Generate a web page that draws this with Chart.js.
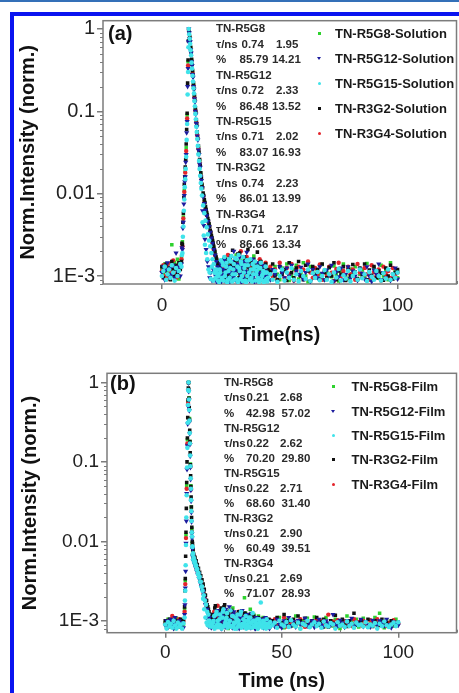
<!DOCTYPE html>
<html>
<head>
<meta charset="utf-8">
<script src="https://cdn.jsdelivr.net/npm/chart.js@4.4.1/dist/chart.umd.min.js"></script>
<style>
html,body{margin:0;padding:0;background:#fff;width:459px;height:693px;overflow:hidden;font-family:"Liberation Sans",Arial,sans-serif;}
#topline{position:absolute;left:0;top:0;width:459px;height:2px;background:#3470b8;}
#frameTop{position:absolute;left:10px;top:12px;width:449px;height:4px;background:#0a14f0;}
#frameLeft{position:absolute;left:10px;top:12px;width:4px;height:681px;background:#0a14f0;}
canvas{position:absolute;left:15px;}
#ca{top:16px;}
#cb{top:340px;}
.t{position:absolute;font-weight:bold;white-space:pre;line-height:1;}
.mk{position:absolute;}
</style>
</head>
<body>
<div id="topline"></div>
<div id="frameTop"></div>
<div id="frameLeft"></div>
<canvas id="ca" width="444" height="331"></canvas>
<canvas id="cb" width="444" height="353"></canvas>
<script>
// ---------------- data ----------------
const X_TICKS = [0, 50, 100];
const Y_TICKS = [0.001, 0.01, 0.1, 1];
const Y_LABELS = ['1E-3', '0.01', '0.1', '1'];

const namesA = ['TN-R5G8-Solution','TN-R5G12-Solution','TN-R5G15-Solution','TN-R3G2-Solution','TN-R3G4-Solution'];
const namesB = ['TN-R5G8-Film','TN-R5G12-Film','TN-R5G15-Film','TN-R3G2-Film','TN-R3G4-Film'];
const samples = ['TN-R5G8','TN-R5G12','TN-R5G15','TN-R3G2','TN-R3G4'];
const tauA = [['0.74','1.95'],['0.72','2.33'],['0.71','2.02'],['0.74','2.23'],['0.71','2.17']];
const pctA = [['85.79','14.21'],['86.48','13.52'],['83.07','16.93'],['86.01','13.99'],['86.66','13.34']];
const tauB = [['0.21','2.68'],['0.22','2.62'],['0.22','2.71'],['0.21','2.90'],['0.21','2.69']];
const pctB = [['42.98','57.02'],['70.20','29.80'],['68.60','31.40'],['60.49','39.51'],['71.07','28.93']];

// time (ns), panel (a)
const tA = [0,0.6,1.2,1.8,2.4,3,3.6,4.2,4.8,5.4,6,6.6,7.2,7.8,
 8.3,8.7,9.1,9.5,9.9,10.3,10.7,11.1,11.4,
 11.8,12.2,12.6,13,13.4,13.8,14.2,14.6,15,15.5,16,16.5,17,17.5,18,18.5,19,19.5,20,20.5,21,21.5,22,22.5,23,23.5,24,
 24.5,25,25.5,26,26.5,27,27.5,28,28.5,29,29.5,30,30.5,31,31.5,32,32.5,33,33.5,34,34.5,35,35.5,36,36.5,37,37.5,38,38.5,39,39.5,40,40.5,41,41.5,42,42.5,43,43.5,44,44.5,45,
 46,47,48,49,50,51,52,53,54,55,56,57,58,59,60,61,62,63,64,65,66,67,68,69,70,71,72,73,74,75,76,77,78,79,80,81,82,83,84,85,86,87,88,89,90,91,92,93,94,95,96,97,98,99,100];
// extra channels, panel (a)
const tA2 = [8.5,8.9,9.3,9.7,10.1,10.5,10.9,11.25,
 11.6,12,12.4,12.8,13.2,13.6,14,14.4,14.8,15.25,15.75,16.25,16.75,17.25,17.75,18.25,18.75,19.25,19.75,20.25,20.75,21.25,21.75,22.25,22.75,23.25,23.75,
 24.25,24.75,25.25,25.75,26.25,26.75,27.25,27.75,28.25,28.75,29.25,29.75,30.25,30.75,31.25,31.75,32.25,32.75,33.25,33.75,34.25,34.75,35.25,35.75,36.25,36.75,37.25,37.75,38.25,38.75,39.25,39.75,40.25,40.75,41.25,41.75,42.25,42.75,43.25,43.75,44.25,44.75];

const aR5G8 = [1.25e-3,1.05e-3,1.4e-3,0.95e-3,1.15e-3,1.3e-3,1.1e-3,2.4e-3,1.0e-3,1.45e-3,1.2e-3,1.6e-3,0.92e-3,1.3e-3,
 1.7e-3,2.6e-3,5.2e-3,0.011,0.019,0.036,0.09,0.4,0.97,
 0.79,0.59,0.42,0.3,0.21,0.15,0.104,0.075,0.053,0.036,0.025,0.0172,0.0125,0.0096,0.0081,0.0066,0.0057,0.0047,0.0042,0.0035,0.003,0.0026,0.0022,0.0019,0.0016,0.0014,0.0013,
 1.3e-3,1.05e-3,1.5e-3,0.95e-3,1.2e-3,1.7e-3,1.1e-3,0.9e-3,1.35e-3,1.6e-3,
 1.0e-3,1.25e-3,1.45e-3,0.92e-3,1.8e-3,1.15e-3,1.3e-3,1.05e-3,1.55e-3,0.88e-3,
 1.4e-3,1.2e-3,1.65e-3,1.0e-3,1.3e-3,0.95e-3,1.5e-3,1.1e-3,1.25e-3,1.75e-3,
 0.9e-3,1.35e-3,1.05e-3,1.45e-3,1.2e-3,0.98e-3,1.3e-3,1.1e-3,0.9e-3,1.4e-3,
 1.0e-3,1.2e-3,
 1.1e-3,0.95e-3,1.3e-3,1.05e-3,0.9e-3,1.25e-3,1.15e-3,1.4e-3,0.88e-3,1.0e-3,
 1.2e-3,1.35e-3,0.92e-3,1.1e-3,1.45e-3,1.0e-3,0.85e-3,1.3e-3,1.15e-3,0.95e-3,
 1.2e-3,1.05e-3,1.38e-3,0.9e-3,1.1e-3,1.25e-3,0.98e-3,1.32e-3,1.05e-3,0.87e-3,
 1.15e-3,1.4e-3,1.0e-3,0.93e-3,1.22e-3,1.1e-3,1.3e-3,0.9e-3,1.05e-3,1.18e-3,
 0.96e-3,1.42e-3,1.08e-3,0.89e-3,1.25e-3,1.12e-3,0.94e-3,1.35e-3,1.0e-3,1.2e-3,
 0.9e-3,1.45e-3,1.05e-3,1.15e-3,0.95e-3];

const aR5G12 = [1.1e-3,1.3e-3,0.9e-3,1.2e-3,1.45e-3,1.0e-3,1.25e-3,1.05e-3,1.35e-3,0.95e-3,1.9e-3,1.15e-3,1.3e-3,1.0e-3,
 1.4e-3,2.1e-3,4.5e-3,0.0095,0.016,0.03,0.075,0.33,1.0,
 0.76,0.56,0.4,0.28,0.2,0.142,0.1,0.071,0.05,0.034,0.023,0.0162,0.0118,0.0092,0.0076,0.0063,0.0054,0.0046,0.004,0.0034,0.0029,0.0025,0.0021,0.0018,0.0015,0.0013,0.0012,
 1.0e-3,1.4e-3,0.9e-3,1.2e-3,1.55e-3,1.05e-3,0.85e-3,1.3e-3,1.1e-3,1.65e-3,
 0.95e-3,1.25e-3,2.0e-3,1.1e-3,0.9e-3,1.4e-3,1.2e-3,1.7e-3,1.0e-3,1.3e-3,
 0.88e-3,1.5e-3,1.15e-3,1.95e-3,1.05e-3,1.35e-3,0.92e-3,1.2e-3,1.6e-3,1.0e-3,
 1.3e-3,0.87e-3,1.45e-3,1.1e-3,0.95e-3,1.25e-3,1.05e-3,1.35e-3,0.9e-3,1.15e-3,
 1.0e-3,0.88e-3,
 0.9e-3,1.2e-3,1.05e-3,0.85e-3,1.3e-3,1.1e-3,0.95e-3,1.25e-3,1.0e-3,1.35e-3,
 0.88e-3,1.15e-3,1.05e-3,1.28e-3,0.92e-3,1.1e-3,1.4e-3,0.86e-3,1.2e-3,1.0e-3,
 0.95e-3,1.3e-3,1.08e-3,0.9e-3,1.18e-3,1.02e-3,1.35e-3,0.87e-3,1.12e-3,0.98e-3,
 1.25e-3,0.9e-3,1.05e-3,1.3e-3,0.94e-3,1.15e-3,1.0e-3,0.88e-3,1.22e-3,1.08e-3,
 0.92e-3,1.3e-3,1.0e-3,0.86e-3,1.18e-3,1.05e-3,1.4e-3,0.9e-3,1.1e-3,0.95e-3,
 1.2e-3,0.88e-3,1.05e-3,1.25e-3,0.92e-3];
const aR5G12x = [2.2e-3,3.8e-3,7.5e-3,0.014,0.024,0.055,0.2,0.7,
 0.9,0.7,0.51,0.36,0.26,0.185,0.13,0.092,0.065,0.045,0.03,0.021,0.0145,
 0.0062,0.0041,0.0028,0.0021,0.0015,0.0013,0.00095,0.0011,0.00088,0.0012,0.0009,0.001,0.00085,0.0011,
 0.9e-3,1.25e-3,0.86e-3,1.05e-3,1.4e-3,0.88e-3,1.15e-3,0.95e-3,1.3e-3,0.85e-3,
 1.1e-3,1.5e-3,0.9e-3,1.0e-3,1.2e-3,0.87e-3,1.35e-3,0.92e-3,1.05e-3,0.84e-3,
 1.25e-3,0.95e-3,1.1e-3,0.86e-3,1.45e-3,1.0e-3,0.88e-3,1.2e-3,0.92e-3,1.05e-3,
 0.85e-3,1.15e-3,0.9e-3,1.3e-3,0.87e-3,1.0e-3,0.94e-3,1.1e-3,0.85e-3,0.96e-3,
 1.05e-3,0.9e-3];

const aR5G15 = [1.0e-3,1.15e-3,1.3e-3,0.9e-3,1.05e-3,1.2e-3,0.95e-3,1.35e-3,1.1e-3,0.88e-3,1.25e-3,1.0e-3,1.15e-3,1.4e-3,
 1.3e-3,1.9e-3,4.0e-3,0.0085,0.015,0.028,0.07,0.3,1.0,
 0.76,0.55,0.39,0.27,0.19,0.133,0.093,0.065,0.046,0.03,0.02,0.0135,0.0095,0.0072,0.0058,0.0047,0.0039,0.0032,0.0027,0.0023,0.0019,0.0016,0.0014,0.0012,0.0011,0.00105,0.001,
 1.2e-3,1.55e-3,0.95e-3,1.35e-3,1.7e-3,1.1e-3,1.45e-3,0.9e-3,1.6e-3,1.25e-3,
 1.75e-3,1.05e-3,1.4e-3,1.65e-3,0.92e-3,1.3e-3,1.8e-3,1.15e-3,1.5e-3,1.0e-3,
 1.7e-3,1.25e-3,0.88e-3,1.55e-3,1.35e-3,1.1e-3,1.6e-3,0.95e-3,1.4e-3,1.2e-3,
 1.5e-3,1.05e-3,1.3e-3,0.9e-3,1.25e-3,1.45e-3,1.0e-3,1.15e-3,0.87e-3,1.3e-3,
 1.1e-3,0.95e-3,
 1.05e-3,0.9e-3,1.15e-3,0.85e-3,1.0e-3,1.2e-3,0.88e-3,1.1e-3,0.95e-3,1.25e-3,
 0.9e-3,1.05e-3,0.86e-3,1.15e-3,1.0e-3,0.92e-3,1.2e-3,0.87e-3,1.08e-3,0.95e-3,
 1.12e-3,0.89e-3,1.0e-3,1.18e-3,0.9e-3,1.05e-3,0.85e-3,1.1e-3,0.96e-3,1.22e-3,
 0.88e-3,1.02e-3,0.93e-3,1.15e-3,0.86e-3,1.0e-3,1.1e-3,0.9e-3,1.2e-3,0.94e-3,
 1.05e-3,0.87e-3,1.12e-3,0.98e-3,0.9e-3,1.15e-3,1.0e-3,0.88e-3,1.08e-3,0.93e-3,
 1.2e-3,0.9e-3,1.05e-3,0.95e-3,1.1e-3];
const aR5G15x = [1.8e-3,3.0e-3,6.2e-3,0.012,0.02,0.045,0.16,0.6,
 0.86,0.66,0.48,0.33,0.23,0.165,0.115,0.08,0.056,0.038,0.025,0.0165,0.0115,
 0.0045,0.0031,0.0024,0.0019,0.0016,0.0012,0.0011,0.00092,0.0013,0.00088,0.0011,0.00095,0.0012,0.00088,
 0.85e-3,1.1e-3,0.9e-3,1.45e-3,0.88e-3,1.0e-3,1.3e-3,0.84e-3,1.15e-3,0.95e-3,
 1.5e-3,0.86e-3,1.2e-3,0.9e-3,1.05e-3,1.6e-3,0.85e-3,1.25e-3,0.92e-3,1.4e-3,
 0.87e-3,1.1e-3,1.35e-3,0.84e-3,1.0e-3,1.55e-3,0.9e-3,1.2e-3,0.86e-3,1.05e-3,
 1.3e-3,0.88e-3,1.15e-3,0.95e-3,0.85e-3,1.25e-3,0.9e-3,1.05e-3,0.84e-3,1.1e-3,
 0.92e-3,0.86e-3];

const aR3G2 = [1.3e-3,0.95e-3,1.15e-3,1.4e-3,1.05e-3,1.25e-3,0.9e-3,1.5e-3,1.2e-3,1.0e-3,1.35e-3,1.1e-3,1.45e-3,1.2e-3,
 1.5e-3,2.4e-3,5.8e-3,0.013,0.021,0.04,0.095,0.42,0.99,
 0.8,0.6,0.43,0.31,0.22,0.158,0.11,0.079,0.056,0.038,0.026,0.018,0.013,0.0102,0.0085,0.007,0.0059,0.005,0.0043,0.0036,0.0031,0.0027,0.0023,0.002,0.0017,0.0015,0.0013,
 1.25e-3,1.0e-3,1.45e-3,1.15e-3,0.9e-3,1.6e-3,1.3e-3,1.05e-3,1.5e-3,0.95e-3,
 1.35e-3,2.05e-3,1.1e-3,1.25e-3,0.88e-3,1.55e-3,1.2e-3,1.9e-3,1.0e-3,1.4e-3,
 1.15e-3,1.7e-3,0.92e-3,1.3e-3,2.1e-3,1.05e-3,1.45e-3,1.2e-3,0.9e-3,1.6e-3,
 1.35e-3,1.1e-3,1.95e-3,1.0e-3,1.25e-3,1.5e-3,0.95e-3,1.3e-3,1.15e-3,1.4e-3,
 1.05e-3,1.2e-3,
 1.15e-3,1.4e-3,1.0e-3,0.9e-3,1.3e-3,1.05e-3,1.2e-3,0.88e-3,1.45e-3,1.1e-3,
 0.95e-3,1.25e-3,1.5e-3,1.0e-3,0.9e-3,1.35e-3,1.15e-3,0.87e-3,1.3e-3,1.05e-3,
 1.2e-3,0.92e-3,1.4e-3,1.1e-3,0.95e-3,1.28e-3,1.0e-3,1.45e-3,0.9e-3,1.15e-3,
 1.05e-3,1.3e-3,0.88e-3,1.2e-3,1.0e-3,1.38e-3,1.12e-3,0.93e-3,1.25e-3,1.05e-3,
 1.4e-3,0.9e-3,1.18e-3,1.02e-3,1.3e-3,0.95e-3,1.15e-3,1.08e-3,0.89e-3,1.25e-3,
 1.0e-3,1.35e-3,0.92e-3,1.1e-3,1.2e-3];
const aR3G2x = [2.5e-3,4.5e-3,9e-3,0.016,0.026,0.06,0.22,0.72,
 0.9,0.71,0.52,0.37,0.27,0.19,0.135,0.096,0.068,0.047,0.032,0.022,0.0155,
 0.0118,0.0095,0.0078,0.0064,0.0055,0.0047,0.004,0.0034,0.0029,0.0025,0.0021,0.0018,0.0016,0.0014,
 1.15e-3,0.9e-3,1.35e-3,1.0e-3,1.6e-3,0.88e-3,1.2e-3,1.45e-3,0.95e-3,1.1e-3,
 1.75e-3,1.0e-3,1.3e-3,0.9e-3,1.5e-3,1.15e-3,1.85e-3,0.95e-3,1.25e-3,1.05e-3,
 1.4e-3,0.88e-3,1.6e-3,1.1e-3,1.3e-3,0.92e-3,1.2e-3,1.5e-3,1.0e-3,1.35e-3,
 0.9e-3,1.15e-3,1.25e-3,0.95e-3,1.4e-3,1.05e-3,0.88e-3,1.2e-3,1.0e-3,1.3e-3,
 0.92e-3,1.1e-3];

const aR3G4 = [1.15e-3,1.35e-3,1.0e-3,1.25e-3,0.92e-3,1.4e-3,1.1e-3,1.2e-3,1.55e-3,1.05e-3,0.95e-3,1.3e-3,1.0e-3,1.25e-3,
 1.6e-3,2.3e-3,5.0e-3,0.0105,0.018,0.033,0.082,0.36,0.98,
 0.78,0.57,0.41,0.29,0.205,0.146,0.102,0.073,0.051,0.035,0.0235,0.0165,0.012,0.0094,0.0078,0.0064,0.0055,0.0046,0.004,0.0034,0.0029,0.0025,0.0021,0.0018,0.0016,0.0014,0.0012,
 1.1e-3,1.4e-3,0.95e-3,1.25e-3,1.55e-3,1.0e-3,1.35e-3,1.8e-3,1.15e-3,0.9e-3,
 1.45e-3,1.2e-3,1.05e-3,1.6e-3,1.3e-3,0.92e-3,1.5e-3,1.1e-3,2.0e-3,1.25e-3,
 1.0e-3,1.4e-3,1.15e-3,1.7e-3,0.95e-3,1.3e-3,1.55e-3,1.05e-3,1.2e-3,1.45e-3,
 0.9e-3,1.35e-3,1.1e-3,1.25e-3,1.6e-3,1.0e-3,1.3e-3,0.95e-3,1.2e-3,1.45e-3,
 1.05e-3,1.15e-3,
 1.3e-3,1.0e-3,1.2e-3,0.9e-3,1.45e-3,1.1e-3,0.95e-3,1.25e-3,1.05e-3,1.4e-3,
 0.88e-3,1.15e-3,1.3e-3,1.0e-3,1.2e-3,0.92e-3,1.5e-3,1.1e-3,0.95e-3,1.25e-3,
 1.05e-3,1.38e-3,0.9e-3,1.15e-3,1.0e-3,1.3e-3,1.1e-3,0.87e-3,1.22e-3,1.45e-3,
 1.0e-3,1.15e-3,0.93e-3,1.3e-3,1.05e-3,1.2e-3,0.9e-3,1.4e-3,1.1e-3,0.96e-3,
 1.25e-3,1.05e-3,0.9e-3,1.35e-3,1.12e-3,1.0e-3,1.2e-3,0.88e-3,1.3e-3,1.05e-3,
 1.15e-3,0.95e-3,1.25e-3,1.0e-3,1.1e-3];

// time (ns), panel (b)
const tB = [0,0.6,1.2,1.8,2.4,3,3.6,4.2,4.8,5.4,6,6.6,7.2,7.8,
 8.3,8.6,8.9,9.2,9.5,9.8,10,
 10.2,10.4,10.6,10.8,11,11.2,11.4,11.6,11.8,
 12,12.5,13,13.5,14,14.5,15,15.5,16,16.5,17,17.5,18,18.5,19,19.5,20,
 20.5,21,21.5,22,22.5,23,23.5,24,24.5,25,25.5,26,26.5,27,27.5,28,28.5,29,29.5,30,30.5,31,31.5,32,32.5,33,33.5,34,34.5,35,35.5,36,36.5,37,37.5,38,38.5,39,39.5,40,40.5,41,41.5,42,42.5,43,43.5,44,44.5,45,
 46,47,48,49,50,51,52,53,54,55,56,57,58,59,60,61,62,63,64,65,66,67,68,69,70,71,72,73,74,75,76,77,78,79,80,81,82,83,84,85,86,87,88,89,90,91,92,93,94,95,96,97,98,99,100];
// extra channels, panel (b)
const tB2 = [8.45,8.75,9.05,9.35,9.65,9.9,
 10.1,10.3,10.5,10.7,10.9,11.1,11.3,11.5,11.7,11.9,
 12.25,12.75,13.25,13.75,14.25,14.75,15.25,15.75,16.25,16.75,17.25,17.75,18.25,18.75,19.25,19.75,
 20.25,20.75,21.25,21.75,22.25,22.75,23.25,23.75,24.25,24.75,25.25,25.75,26.25,26.75,27.25,27.75,28.25,28.75,29.25,29.75,30.25,30.75,31.25,31.75,32.25,32.75,33.25,33.75,34.25,34.75,35.25,35.75,36.25,36.75,37.25,37.75,38.25,38.75,39.25,39.75,40.25,40.75,41.25,41.75,42.25,42.75,43.25,43.75,44.25,44.75];

const bR5G8 = [0.95e-3,0.82e-3,1.05e-3,0.9e-3,0.85e-3,1.0e-3,0.92e-3,0.8e-3,1.08e-3,0.88e-3,0.97e-3,0.83e-3,1.02e-3,0.9e-3,
 1.4e-3,3.2e-3,0.012,0.05,0.19,0.58,1.0,
 0.64,0.35,0.18,0.094,0.05,0.027,0.0145,0.0095,0.0075,
 0.0066,0.006,0.0054,0.0049,0.0044,0.004,0.0036,0.0032,0.0028,0.0024,0.0021,0.0018,0.0016,0.0014,0.0012,0.0011,0.00098,
 1.1e-3,0.9e-3,1.3e-3,0.85e-3,1.0e-3,1.2e-3,0.95e-3,1.4e-3,0.88e-3,1.05e-3,
 1.25e-3,0.92e-3,1.15e-3,0.8e-3,1.35e-3,1.0e-3,0.9e-3,1.45e-3,1.1e-3,0.85e-3,
 1.2e-3,0.95e-3,1.05e-3,1.3e-3,0.88e-3,1.0e-3,1.15e-3,1.95e-3,1.25e-3,0.95e-3,
 1.1e-3,0.9e-3,1.4e-3,1.0e-3,0.86e-3,1.2e-3,0.93e-3,1.05e-3,0.8e-3,1.15e-3,
 0.95e-3,1.0e-3,0.87e-3,1.1e-3,0.92e-3,0.83e-3,1.05e-3,0.9e-3,0.98e-3,0.85e-3,
 0.9e-3,1.0e-3,0.85e-3,1.1e-3,0.95e-3,0.82e-3,1.05e-3,0.9e-3,1.0e-3,0.87e-3,
 1.15e-3,0.93e-3,0.8e-3,1.0e-3,0.9e-3,1.08e-3,0.85e-3,0.97e-3,1.12e-3,0.88e-3,
 0.95e-3,1.02e-3,0.83e-3,1.1e-3,0.9e-3,0.98e-3,0.86e-3,1.05e-3,0.92e-3,0.8e-3,
 1.0e-3,0.94e-3,1.15e-3,0.87e-3,0.99e-3,0.9e-3,1.05e-3,0.84e-3,0.96e-3,1.08e-3,
 0.9e-3,0.85e-3,1.0e-3,0.93e-3,1.1e-3,0.88e-3,1.25e-3,0.95e-3,0.82e-3,1.02e-3,
 0.9e-3,0.97e-3,0.86e-3,1.05e-3,0.92e-3];

const bR5G12 = [0.88e-3,1.0e-3,0.83e-3,0.95e-3,1.05e-3,0.9e-3,0.8e-3,1.1e-3,0.92e-3,0.85e-3,1.0e-3,0.88e-3,0.95e-3,0.82e-3,
 1.2e-3,2.6e-3,0.0095,0.04,0.16,0.5,0.98,
 0.6,0.32,0.165,0.085,0.044,0.023,0.0125,0.0082,0.0064,
 0.0057,0.0052,0.0047,0.0042,0.0038,0.0034,0.003,0.0027,0.0024,0.0021,0.0018,0.0016,0.0014,0.0012,0.0011,0.00095,0.00088,
 1.0e-3,0.85e-3,1.2e-3,0.9e-3,1.35e-3,0.95e-3,1.1e-3,0.8e-3,1.25e-3,1.0e-3,
 0.88e-3,1.4e-3,0.92e-3,1.05e-3,1.5e-3,0.86e-3,1.15e-3,0.95e-3,1.3e-3,0.9e-3,
 1.05e-3,0.82e-3,1.2e-3,1.0e-3,0.9e-3,1.35e-3,0.87e-3,1.1e-3,0.95e-3,1.2e-3,
 0.85e-3,1.05e-3,0.93e-3,1.25e-3,0.88e-3,1.0e-3,0.8e-3,1.1e-3,0.95e-3,0.87e-3,
 1.0e-3,0.9e-3,1.05e-3,0.84e-3,0.96e-3,1.1e-3,0.88e-3,0.92e-3,1.0e-3,0.85e-3,
 0.95e-3,0.85e-3,1.05e-3,0.9e-3,0.82e-3,1.0e-3,0.93e-3,1.1e-3,0.87e-3,0.98e-3,
 0.84e-3,1.02e-3,0.9e-3,0.95e-3,1.08e-3,0.86e-3,0.92e-3,1.0e-3,0.83e-3,0.97e-3,
 1.05e-3,0.9e-3,0.85e-3,1.0e-3,0.94e-3,0.88e-3,1.2e-3,0.92e-3,0.86e-3,1.02e-3,
 0.95e-3,0.83e-3,1.0e-3,0.9e-3,1.08e-3,0.87e-3,0.96e-3,0.92e-3,1.05e-3,0.85e-3,
 0.98e-3,0.9e-3,0.84e-3,1.02e-3,0.93e-3,0.88e-3,1.0e-3,0.95e-3,0.86e-3,1.05e-3,
 0.9e-3,0.82e-3,0.97e-3,0.92e-3,0.88e-3];
const bR5G12x = [1.6e-3,4.2e-3,0.018,0.08,0.3,0.78,
 0.77,0.44,0.225,0.118,0.06,0.032,0.0175,0.011,0.0081,0.0066,
 0.0059,0.0053,0.0048,0.0043,0.0039,0.0034,0.003,0.0026,0.0023,0.0019,0.0016,0.0011,0.0009,0.00085,0.001,0.00082,
 0.9e-3,0.82e-3,1.1e-3,0.95e-3,0.85e-3,1.25e-3,0.88e-3,1.0e-3,0.8e-3,1.15e-3,
 0.92e-3,0.84e-3,1.05e-3,1.3e-3,0.86e-3,0.95e-3,1.0e-3,0.82e-3,1.2e-3,0.9e-3,
 0.85e-3,1.05e-3,0.95e-3,0.8e-3,1.1e-3,0.88e-3,1.0e-3,0.84e-3,0.93e-3,1.15e-3,
 0.86e-3,0.9e-3,1.0e-3,0.82e-3,0.95e-3,1.05e-3,0.87e-3,0.8e-3,0.98e-3,0.9e-3,
 0.84e-3,1.0e-3,0.88e-3,0.93e-3,0.82e-3,1.05e-3,0.9e-3,0.85e-3,0.96e-3,0.8e-3];

const bR5G15 = [0.9e-3,0.8e-3,0.97e-3,0.86e-3,0.92e-3,0.82e-3,1.0e-3,0.88e-3,0.8e-3,0.95e-3,0.85e-3,0.9e-3,0.8e-3,0.93e-3,
 1.1e-3,2.4e-3,0.009,0.038,0.15,0.52,1.0,
 0.61,0.33,0.17,0.088,0.046,0.024,0.013,0.0087,0.0068,
 0.0059,0.0054,0.0049,0.0044,0.0039,0.0035,0.0031,0.0027,0.0024,0.0021,0.0018,0.0016,0.0013,0.0012,0.001,0.00092,0.00085,
 0.95e-3,1.15e-3,0.85e-3,1.3e-3,1.0e-3,0.9e-3,1.2e-3,0.82e-3,1.1e-3,1.4e-3,
 0.88e-3,1.05e-3,1.25e-3,0.92e-3,1.0e-3,1.35e-3,0.86e-3,1.15e-3,0.95e-3,1.1e-3,
 0.8e-3,1.2e-3,1.0e-3,0.9e-3,1.3e-3,0.85e-3,1.05e-3,0.93e-3,1.15e-3,0.88e-3,
 1.0e-3,0.82e-3,1.1e-3,0.95e-3,1.25e-3,0.87e-3,1.0e-3,0.9e-3,1.05e-3,0.85e-3,
 0.95e-3,1.7e-3,0.88e-3,1.0e-3,0.92e-3,0.84e-3,1.05e-3,0.9e-3,0.86e-3,0.97e-3,
 0.88e-3,0.95e-3,0.82e-3,1.0e-3,0.9e-3,0.86e-3,0.97e-3,0.84e-3,1.02e-3,0.9e-3,
 0.85e-3,0.95e-3,0.8e-3,0.92e-3,0.88e-3,1.0e-3,0.83e-3,0.9e-3,0.96e-3,0.86e-3,
 0.92e-3,0.82e-3,0.98e-3,0.88e-3,0.85e-3,0.94e-3,0.9e-3,0.8e-3,0.96e-3,0.87e-3,
 0.9e-3,0.84e-3,0.98e-3,0.86e-3,0.92e-3,0.82e-3,0.95e-3,0.88e-3,0.9e-3,0.85e-3,
 0.96e-3,0.83e-3,0.9e-3,0.87e-3,0.94e-3,0.8e-3,0.92e-3,0.86e-3,0.98e-3,0.88e-3,
 0.84e-3,0.9e-3,0.95e-3,0.86e-3,0.96e-3];
const bR5G15x = [1.8e-3,5e-3,0.02,0.085,0.31,0.8,
 0.78,0.45,0.23,0.12,0.062,0.033,0.018,0.0115,0.0085,0.0071,
 0.0062,0.0056,0.005,0.0045,0.004,0.0036,0.0031,0.0027,0.0019,0.0014,0.0011,0.00095,0.00088,0.001,0.00085,0.0009,
 0.85e-3,1.0e-3,0.8e-3,1.2e-3,0.9e-3,0.83e-3,1.05e-3,0.88e-3,0.8e-3,1.3e-3,
 0.86e-3,0.95e-3,1.1e-3,0.82e-3,0.9e-3,1.0e-3,0.84e-3,1.15e-3,0.88e-3,0.8e-3,
 0.95e-3,1.05e-3,0.85e-3,0.9e-3,1.2e-3,0.82e-3,0.92e-3,0.86e-3,1.0e-3,0.8e-3,
 0.9e-3,1.1e-3,0.85e-3,0.95e-3,0.82e-3,1.0e-3,0.88e-3,0.84e-3,0.93e-3,0.8e-3,
 1.05e-3,0.86e-3,0.9e-3,0.82e-3,0.97e-3,0.85e-3,0.8e-3,0.92e-3,0.87e-3,0.83e-3];

const bR3G2 = [1.0e-3,0.87e-3,0.93e-3,1.05e-3,0.85e-3,0.96e-3,0.9e-3,1.02e-3,0.84e-3,0.98e-3,0.9e-3,1.05e-3,0.86e-3,1.0e-3,
 1.5e-3,3.4e-3,0.013,0.055,0.2,0.6,0.99,
 0.63,0.34,0.18,0.092,0.049,0.027,0.015,0.01,0.0078,
 0.0068,0.0062,0.0056,0.005,0.0045,0.004,0.0036,0.0032,0.0028,0.0024,0.0021,0.0018,0.0016,0.0014,0.0012,0.0011,0.001,
 1.2e-3,0.95e-3,1.55e-3,1.05e-3,0.9e-3,1.3e-3,1.0e-3,1.45e-3,0.88e-3,1.15e-3,
 1.6e-3,0.92e-3,1.05e-3,1.25e-3,0.85e-3,1.1e-3,1.35e-3,0.95e-3,1.0e-3,1.2e-3,
 0.9e-3,1.05e-3,1.3e-3,0.87e-3,1.15e-3,0.95e-3,1.0e-3,1.25e-3,0.9e-3,1.1e-3,
 0.85e-3,1.2e-3,0.97e-3,1.05e-3,0.9e-3,1.15e-3,0.86e-3,1.0e-3,0.92e-3,1.1e-3,
 0.88e-3,0.95e-3,1.05e-3,0.9e-3,0.85e-3,1.0e-3,0.93e-3,0.88e-3,1.05e-3,0.9e-3,
 1.0e-3,0.9e-3,1.1e-3,0.85e-3,0.95e-3,1.2e-3,0.9e-3,1.0e-3,0.87e-3,1.05e-3,
 0.93e-3,1.15e-3,1.0e-3,0.9e-3,1.08e-3,0.95e-3,0.86e-3,1.0e-3,0.92e-3,1.1e-3,
 0.88e-3,0.97e-3,1.05e-3,0.9e-3,0.84e-3,1.0e-3,0.93e-3,1.18e-3,0.87e-3,0.96e-3,
 1.05e-3,0.9e-3,0.85e-3,1.0e-3,0.92e-3,1.25e-3,0.88e-3,0.95e-3,1.02e-3,0.86e-3,
 0.97e-3,1.05e-3,0.9e-3,0.85e-3,1.0e-3,0.93e-3,0.88e-3,1.05e-3,0.9e-3,0.95e-3,
 0.86e-3,1.0e-3,0.92e-3,0.88e-3,0.96e-3];
const bR3G2x = [2.4e-3,6.5e-3,0.026,0.1,0.36,0.85,
 0.82,0.48,0.25,0.13,0.067,0.036,0.02,0.013,0.0094,0.0079,
 0.0069,0.0063,0.0057,0.0051,0.0046,0.0041,0.0037,0.0033,0.0029,0.0025,0.0021,0.0018,0.0015,0.0013,0.0012,0.00105,
 1.1e-3,0.9e-3,1.45e-3,1.0e-3,0.88e-3,1.25e-3,0.95e-3,1.35e-3,0.9e-3,1.05e-3,
 1.5e-3,0.87e-3,1.15e-3,0.95e-3,1.2e-3,1.0e-3,0.85e-3,1.3e-3,0.92e-3,1.1e-3,
 0.88e-3,1.2e-3,1.0e-3,0.9e-3,1.15e-3,0.85e-3,1.05e-3,0.95e-3,1.25e-3,0.88e-3,
 1.0e-3,0.92e-3,1.1e-3,0.86e-3,1.0e-3,0.95e-3,0.88e-3,1.05e-3,0.9e-3,0.84e-3,
 0.95e-3,1.0e-3,0.87e-3,0.92e-3,1.05e-3,0.86e-3,0.9e-3,0.98e-3,0.85e-3,0.93e-3];

const bR3G4 = [0.92e-3,1.0e-3,0.85e-3,0.95e-3,0.88e-3,1.15e-3,1.0e-3,0.83e-3,0.97e-3,0.9e-3,1.05e-3,0.87e-3,0.93e-3,1.0e-3,
 1.3e-3,2.9e-3,0.011,0.046,0.17,0.55,1.0,
 0.62,0.33,0.17,0.087,0.045,0.024,0.013,0.0088,0.0068,
 0.006,0.0055,0.005,0.0045,0.004,0.0036,0.0032,0.0028,0.0025,0.0022,0.0019,0.0016,0.0014,0.0013,0.0011,0.001,0.0009,
 1.05e-3,1.3e-3,0.9e-3,1.15e-3,1.55e-3,0.95e-3,1.2e-3,1.0e-3,0.88e-3,1.4e-3,
 1.1e-3,0.92e-3,1.25e-3,1.0e-3,0.85e-3,1.35e-3,0.95e-3,1.15e-3,1.05e-3,0.9e-3,
 1.2e-3,0.87e-3,1.3e-3,1.0e-3,0.93e-3,1.1e-3,0.85e-3,1.2e-3,0.95e-3,1.05e-3,
 0.9e-3,1.15e-3,0.86e-3,1.0e-3,1.1e-3,0.92e-3,0.88e-3,1.05e-3,0.95e-3,0.85e-3,
 1.0e-3,0.9e-3,0.95e-3,1.05e-3,0.86e-3,0.92e-3,1.0e-3,0.88e-3,0.94e-3,1.02e-3,
 0.95e-3,1.05e-3,0.88e-3,1.0e-3,0.9e-3,1.1e-3,0.85e-3,0.98e-3,0.93e-3,1.02e-3,
 0.87e-3,0.95e-3,1.05e-3,0.9e-3,0.84e-3,1.0e-3,0.92e-3,0.97e-3,0.88e-3,1.05e-3,
 0.9e-3,1.0e-3,0.86e-3,0.95e-3,1.2e-3,0.9e-3,0.98e-3,0.85e-3,1.02e-3,0.93e-3,
 0.88e-3,1.0e-3,0.9e-3,0.95e-3,0.86e-3,1.05e-3,0.92e-3,0.97e-3,0.88e-3,1.0e-3,
 0.93e-3,0.85e-3,1.02e-3,0.9e-3,0.96e-3,1.05e-3,0.88e-3,0.92e-3,1.0e-3,0.86e-3,
 0.95e-3,0.9e-3,1.02e-3,0.87e-3,0.93e-3];

// ---------------- styling ----------------
const FONT = '"Liberation Sans", Arial, Helvetica, sans-serif';
const COLORS = ['#2ed22e', '#1c1c9e', '#3fe3ea', '#111111', '#e3242b'];
const SHAPES = ['rect', 'triangle', 'circle', 'rect', 'circle'];
const ROT = [0, 180, 0, 0, 0];
const RAD = [2.5, 3.0, 2.3, 2.5, 2.2];
const ORDER = [4, 1, 0, 2, 3];
const AXIS_COLOR = '#7c7c7c';
const MINOR_MULTS = [2, 3, 4, 5, 6, 7, 8, 9];
const X_MINOR = [-25, 25, 75, 125];

const framePlugin = {
  id: 'frame',
  beforeDatasetsDraw(chart) {
    const ctx = chart.ctx, a = chart.chartArea, xs = chart.scales.x, ys = chart.scales.y;
    ctx.save();
    ctx.strokeStyle = AXIS_COLOR;
    ctx.lineWidth = 1.5;
    ctx.strokeRect(a.left, a.top, a.right - a.left, a.bottom - a.top);
    ctx.lineWidth = 1;
    ctx.beginPath();
    for (let d = -4; d <= 0; d++) {
      for (const m of MINOR_MULTS) {
        const v = m * Math.pow(10, d);
        if (v < ys.min || v > ys.max) continue;
        const py = Math.round(ys.getPixelForValue(v)) + 0.5;
        ctx.moveTo(a.left - 3, py); ctx.lineTo(a.left, py);
      }
    }
    for (const v of X_MINOR) {
      const px = Math.round(xs.getPixelForValue(v)) + 0.5;
      ctx.moveTo(px, a.bottom); ctx.lineTo(px, a.bottom - 3);
    }
    ctx.stroke();
    ctx.restore();
  }
};

function build(id, times, times2, series, extras, names, cfg) {
  const datasets = series.map((vals, k) => {
    let pts = times.map((t, i) => ({x: t, y: vals[i]}));
    if (extras[k]) pts = pts.concat(times2.map((t, i) => ({x: t, y: extras[k][i]})));
    return {
      label: names[k],
      data: pts,
      backgroundColor: COLORS[k],
      borderColor: COLORS[k],
      pointStyle: SHAPES[k],
      rotation: ROT[k],
      pointRadius: RAD[k],
      pointHoverRadius: RAD[k],
      pointBorderWidth: 0,
      showLine: false,
      order: ORDER[k]
    };
  });
  return new Chart(document.getElementById(id), {
    type: 'scatter',
    data: {datasets},
    plugins: [framePlugin],
    options: {
      responsive: false,
      animation: false,
      devicePixelRatio: 1,
      events: [],
      layout: {autoPadding: false, padding: {top: cfg.padTop, right: cfg.padRight, left: 0, bottom: 0}},
      plugins: {legend: {display: false}, tooltip: {enabled: false}},
      scales: {
        x: {
          type: 'linear', min: -25, max: 125,
          afterBuildTicks: s => { s.ticks = X_TICKS.map(v => ({value: v})); },
          afterFit: s => { s.height = cfg.xH; s.paddingLeft = 0; s.paddingRight = 0; },
          ticks: {font: {family: FONT, size: cfg.xTickSize}, color: '#222', padding: cfg.xPad, maxRotation: 0, autoSkip: false},
          grid: {drawOnChartArea: false, drawTicks: true, tickLength: 5, color: AXIS_COLOR, lineWidth: 1.5},
          border: {display: false},
          title: {display: true, text: cfg.xTitle, color: '#111', font: {family: FONT, size: 19.5, weight: 'bold'}, padding: {top: 0, bottom: 0}}
        },
        y: {
          type: 'logarithmic', min: cfg.yMin, max: cfg.yMax,
          afterBuildTicks: s => { s.ticks = Y_TICKS.map(v => ({value: v})); },
          afterFit: s => { s.width = cfg.yW; s.paddingTop = 0; s.paddingBottom = 0; },
          ticks: {font: {family: FONT, size: cfg.yTickSize}, color: '#222', padding: 2, autoSkip: false,
                  callback: (v, i) => Y_LABELS[i]},
          grid: {drawOnChartArea: false, drawTicks: true, tickLength: 6, color: AXIS_COLOR, lineWidth: 1.5},
          border: {display: false},
          title: {display: true, text: 'Norm.Intensity (norm.)', color: '#111', font: {family: FONT, size: 20, weight: 'bold'}, padding: {top: cfg.yTitlePad, bottom: 0}}
        }
      }
    }
  });
}

build('ca', tA, tA2, [aR5G8, aR5G12, aR5G15, aR3G2, aR3G4], [null, aR5G12x, aR5G15x, aR3G2x, null], namesA,
  {padTop: 4.7, padRight: 2.5, xH: 63, yW: 88, yMin: 8.0e-4, yMax: 1.26, xTickSize: 19, yTickSize: 20, xPad: 5, yTitlePad: 1.5, xTitle: 'Time(ns)'});
build('cb', tB, tB2, [bR5G8, bR5G12, bR5G15, bR3G2, bR3G4], [null, bR5G12x, bR5G15x, bR3G2x, null], namesB,
  {padTop: 33.3, padRight: 2.5, xH: 60.3, yW: 92, yMin: 7.1e-4, yMax: 1.30, xTickSize: 19, yTickSize: 19, xPad: 4, yTitlePad: 3, xTitle: 'Time (ns)'});

// ---------------- overlay text ----------------
function addText(txt, x, yc, size, color) {
  const d = document.createElement('div');
  d.className = 't';
  d.textContent = txt;
  d.style.left = x + 'px';
  d.style.top = (yc - 0.49 * size) + 'px';
  d.style.fontSize = size + 'px';
  d.style.color = color;
  document.body.appendChild(d);
}
function addMarker(k, x, yc) {
  const d = document.createElement('div');
  d.className = 'mk';
  if (SHAPES[k] === 'triangle') {
    d.style.left = (x - 2) + 'px'; d.style.top = (yc - 1.5) + 'px';
    d.style.width = '0'; d.style.height = '0';
    d.style.borderLeft = '2px solid transparent';
    d.style.borderRight = '2px solid transparent';
    d.style.borderTop = '3.5px solid ' + COLORS[k];
  } else {
    d.style.left = (x - 1.5) + 'px'; d.style.top = (yc - 1.5) + 'px';
    d.style.width = '3px'; d.style.height = '3px';
    d.style.background = COLORS[k];
    if (SHAPES[k] === 'circle') d.style.borderRadius = '50%';
  }
  document.body.appendChild(d);
}

function annotate(x0, y0, dy, tau, pct, c) {
  for (let k = 0; k < 5; k++) {
    const y = y0 + dy * 3 * k;
    addText(samples[k], x0, y, 11.5, '#2a2a2a');
    addText('τ/ns', x0, y + dy, 11.5, '#2a2a2a');
    addText(tau[k][0], c.t1, y + dy, 11.5, '#2a2a2a');
    addText(tau[k][1], c.t2, y + dy, 11.5, '#2a2a2a');
    addText('%', x0, y + 2 * dy, 11.5, '#2a2a2a');
    addText(pct[k][0], c.p1, y + 2 * dy, 11.5, '#2a2a2a');
    addText(pct[k][1], c.p2, y + 2 * dy, 11.5, '#2a2a2a');
  }
}
annotate(216, 29, 15.43, tauA, pctA, {t1: 241.5, t2: 276, p1: 239.5, p2: 272});
annotate(224, 383, 15.07, tauB, pctB, {t1: 246.5, t2: 280, p1: 246, p2: 281.5});

for (let k = 0; k < 5; k++) {
  addMarker(k, 319, 33 + 25 * k);
  addText(namesA[k], 335, 33 + 25 * k, 13, '#1a1a1a');
  addMarker(k, 333, 386.7 + 24.33 * k);
  addText(namesB[k], 351.5, 386.7 + 24.33 * k, 13, '#1a1a1a');
}
addText('(a)', 108, 33, 20, '#111');
addText('(b)', 110, 383, 20, '#111');
</script>
</body>
</html>
